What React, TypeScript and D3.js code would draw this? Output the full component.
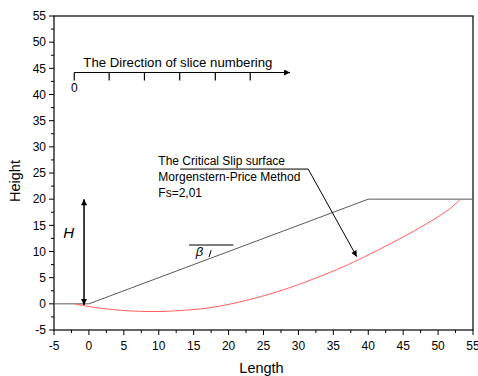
import React from "react";
import * as d3 from "d3";

const W = 478;
const H = 376;

// Axis ticks
const xMajorTicks = [-5, 0, 5, 10, 15, 20, 25, 30, 35, 40, 45, 50, 55];
const yMajorTicks = [-5, 0, 5, 10, 15, 20, 25, 30, 35, 40, 45, 50, 55];

// Slope geometry (ground surface)
const groundX = [-5, 0, 40, 55];
const groundY = [0, 0, 20, 20];

// Critical slip surface
const slipX = [-2, 0, 2, 4, 6, 8.75, 11, 13.5, 16.9, 20.2, 23, 26.4, 31.2, 36, 38.4, 42.2, 46.5, 51.3, 53.1];
const slipY = [0, -0.55, -0.92, -1.19, -1.38, -1.5, -1.45, -1.25, -0.9, -0.1, 0.8, 2.0, 4.2, 6.8, 8.25, 10.8, 13.8, 17.6, 19.85];

// Slice numbering scale
const sliceTicks = [-2.1, 2.9, 7.95, 13.0, 18.1, 23.1];
const sliceEnd = 28.8;
const sliceY = 44.2;

// Annotations (data coordinates)
const annoLines = ["The Critical Slip surface", "Morgenstern-Price Method", "Fs=2,01"];
const annoTextX = 9.94;
const annoBaselines = [26.5, 23.5, 20.5];
const annoUnderline = { x1: 13.05, x2: 31.4, y: 25.75 };
const annoArrowEnd = { x: 38.36, y: 9.0 };
const hArrow = { x: -0.7, y1: 20, y2: -0.2 };
const hLabel = { x: -3.67, y: 12.6 };
const betaLine = { x1: 14.34, x2: 20.69, y: 11.23 };
const betaLabel = { x: 15.3, y: 9.2 };
const betaMark = { x1: 17.5, y1: 10.25, x2: 17.2, y2: 8.95 };

export default function App() {
  const x = d3.scaleLinear().domain([-5, 55]).range([54, 473]);
  const y = d3.scaleLinear().domain([-5, 55]).range([330, 16]);

  const xMinor = d3.range(-2.5, 55, 5);
  const yMinor = d3.range(-2.5, 55, 5);

  const groundPath = d3
    .line<[number, number]>()
    .x((d) => x(d[0]))
    .y((d) => y(d[1]))(groundX.map((v, i) => [v, groundY[i]] as [number, number]));
  const slipPath = d3
    .line<[number, number]>()
    .x((d) => x(d[0]))
    .y((d) => y(d[1]))
    .curve(d3.curveBasis)(slipX.map((v, i) => [v, slipY[i]] as [number, number]));

  const font = "Arial, 'Liberation Sans', sans-serif";

  return (
    <svg
      width={W}
      height={H}
      style={{ position: "absolute", left: 0, top: 0, background: "#fff" }}
      fontFamily={font}
    >
      <defs>
        <marker
          id="ah"
          viewBox="0 0 10 10"
          refX="10"
          refY="5"
          markerWidth="9"
          markerHeight="6"
          markerUnits="userSpaceOnUse"
          orient="auto-start-reverse"
        >
          <path d="M0,0 L10,5 L0,10 Z" fill="#000" />
        </marker>
      </defs>

      {/* frame */}
      <rect x={x(-5)} y={y(55)} width={x(55) - x(-5)} height={y(-5) - y(55)} fill="none" stroke="#000" strokeWidth={1.2} />

      {/* x ticks */}
      {xMajorTicks.map((t) => (
        <g key={"xt" + t}>
          <line x1={x(t)} x2={x(t)} y1={y(-5)} y2={y(-5) + 5} stroke="#000" />
          <text x={x(t)} y={350} fontSize={12} textAnchor="middle" fill="#000">
            {t}
          </text>
        </g>
      ))}
      {xMinor.map((t) => (
        <line key={"xm" + t} x1={x(t)} x2={x(t)} y1={y(-5)} y2={y(-5) + 3} stroke="#000" />
      ))}

      {/* y ticks */}
      {yMajorTicks.map((t) => (
        <g key={"yt" + t}>
          <line x1={x(-5) - 5} x2={x(-5)} y1={y(t)} y2={y(t)} stroke="#000" />
          <text x={46} y={y(t) + 4.2} fontSize={12} textAnchor="end" fill="#000">
            {t}
          </text>
        </g>
      ))}
      {yMinor.map((t) => (
        <line key={"ym" + t} x1={x(-5) - 3} x2={x(-5)} y1={y(t)} y2={y(t)} stroke="#000" />
      ))}

      {/* axis labels */}
      <text x={261.5} y={373} fontSize={14.5} textAnchor="middle" fill="#000">
        Length
      </text>
      <text transform="translate(20,181) rotate(-90)" fontSize={14.5} textAnchor="middle" fill="#000">
        Height
      </text>

      {/* ground */}
      <path d={groundPath || ""} fill="none" stroke="#5a5a5a" strokeWidth={1} />
      {/* slip surface */}
      <path d={slipPath || ""} fill="none" stroke="#ff5c5c" strokeWidth={1} />

      {/* slice numbering scale */}
      <text x={x(-0.8)} y={y(45.25)} fontSize={13.2} fill="#000">
        The Direction of slice numbering
      </text>
      <line x1={x(sliceTicks[0])} x2={x(sliceEnd)} y1={y(sliceY)} y2={y(sliceY)} stroke="#000" strokeWidth={1} markerEnd="url(#ah)" />
      {sliceTicks.map((t) => (
        <line key={"st" + t} x1={x(t)} x2={x(t)} y1={y(sliceY)} y2={y(sliceY) + 8} stroke="#000" strokeWidth={1.2} />
      ))}
      <text x={x(sliceTicks[0])} y={92} fontSize={12} textAnchor="middle" fill="#000">
        0
      </text>

      {/* annotation */}
      {annoLines.map((s, i) => (
        <text key={s} x={x(annoTextX)} y={y(annoBaselines[i])} fontSize={12} fill="#000">
          {s}
        </text>
      ))}
      <line x1={x(annoUnderline.x1)} x2={x(annoUnderline.x2)} y1={y(annoUnderline.y)} y2={y(annoUnderline.y)} stroke="#000" strokeWidth={1} />
      <line
        x1={x(annoUnderline.x2)}
        y1={y(annoUnderline.y)}
        x2={x(annoArrowEnd.x)}
        y2={y(annoArrowEnd.y)}
        stroke="#000"
        strokeWidth={1}
        markerEnd="url(#ah)"
      />

      {/* H arrow */}
      <line
        x1={x(hArrow.x)}
        x2={x(hArrow.x)}
        y1={y(hArrow.y1)}
        y2={y(hArrow.y2)}
        stroke="#000"
        strokeWidth={1.5}
        markerStart="url(#ah)"
        markerEnd="url(#ah)"
      />
      <text x={x(hLabel.x)} y={y(hLabel.y)} fontSize={15} fontStyle="italic" fill="#000">
        H
      </text>

      {/* beta */}
      <line x1={x(betaLine.x1)} x2={x(betaLine.x2)} y1={y(betaLine.y)} y2={y(betaLine.y)} stroke="#555" strokeWidth={1.5} />
      <text x={x(betaLabel.x)} y={y(betaLabel.y)} fontSize={13} fontStyle="italic" fill="#000">
        β
      </text>
      <line x1={x(betaMark.x1)} y1={y(betaMark.y1)} x2={x(betaMark.x2)} y2={y(betaMark.y2)} stroke="#000" strokeWidth={1} />
    </svg>
  );
}
